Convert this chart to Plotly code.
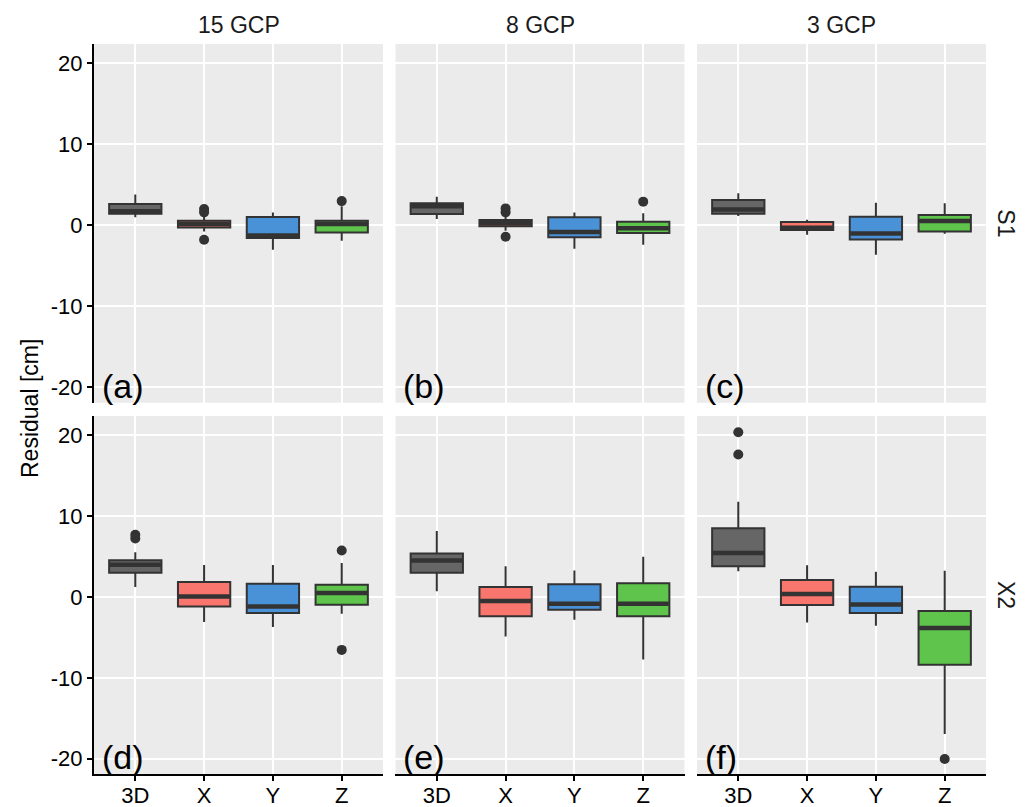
import plotly.graph_objects as go

# ---------------- data ----------------
categories = ["3D", "X", "Y", "Z"]
columns = ["15 GCP", "8 GCP", "3 GCP"]
rows = ["S1", "X2"]
panel_labels = [["(a)", "(b)", "(c)"], ["(d)", "(e)", "(f)"]]
fill_colors = ["#666666", "#F8766D", "#4A92D7", "#5FC44B"]

# statistics per panel: [row][col][category]
q1 = [
    [[1.45, -0.25, -1.57, -0.87], [1.40, -0.12, -1.48, -0.95], [1.45, -0.58, -1.74, -0.74]],
    [[3.00, -1.16, -1.99, -0.95], [2.99, -2.37, -1.58, -2.37], [3.80, -0.99, -1.98, -8.39]],
]
median = [
    [[1.75, 0.16, -1.24, 0.16], [2.35, 0.25, -0.82, -0.35], [1.95, -0.29, -0.99, 0.54]],
    [[4.00, 0.08, -1.16, 0.50], [4.52, -0.50, -0.83, -0.83], [5.45, 0.37, -0.91, -3.84]],
]
q3 = [
    [[2.64, 0.58, 1.03, 0.58], [2.72, 0.66, 0.99, 0.45], [3.14, 0.41, 1.07, 1.28]],
    [[4.55, 1.86, 1.65, 1.53], [5.39, 1.24, 1.58, 1.70], [8.51, 2.10, 1.28, -1.74]],
]
lower_whisker = [
    [[0.99, -0.74, -3.00, -1.90], [0.78, -0.66, -2.90, -2.40], [1.16, -1.16, -3.64, -1.03]],
    [[1.24, -3.10, -3.72, -2.07], [0.70, -4.90, -2.82, -7.72], [3.18, -3.14, -3.55, -16.94]],
]
upper_whisker = [
    [[3.80, 1.10, 1.60, 2.35], [3.55, 1.20, 1.60, 1.50], [3.97, 0.70, 2.81, 2.73]],
    [[5.54, 3.97, 3.97, 4.22], [8.17, 3.82, 3.28, 4.98], [11.78, 3.93, 3.14, 3.26]],
]
outliers = [
    [[[], [2.02, 1.61, -1.77], [], [3.00]],
     [[], [2.10, 1.61, -1.40], [], [2.93]],
     [[], [], [], []]],
    [[[7.70, 7.25], [], [], [5.75, -6.54]],
     [[], [], [], []],
     [[20.40, 17.64], [], [], [-20.04]]],
]

y_ticks = [-20, -10, 0, 10, 20]
y_tick_labels = ["-20", "-10", "0", "10", "20"]
y_range = [-21.9, 22.4]
x_range = [0.4, 4.6]
box_width = 0.76

# ---------------- layout geometry ----------------
x_domains = [[0.0, 0.324], [0.338, 0.662], [0.676, 1.0]]
y_domains = [[0.5086, 1.0], [0.0, 0.4904]]

FONT = "Liberation Sans, Arial, sans-serif"
LINE = "#333333"
TICK_SIZE = 22
STRIP_SIZE = 23

fig = go.Figure()
layout = dict(
    width=1022, height=799,
    margin=dict(l=86, r=44, t=36, b=33, autoexpand=False),
    paper_bgcolor="white", plot_bgcolor="#EBEBEB",
    showlegend=False,
    font=dict(family=FONT, size=TICK_SIZE, color="black"),
)
annotations = []

for r in range(2):
    for c in range(3):
        idx = r * 3 + c + 1
        xa = "x" if idx == 1 else f"x{idx}"
        ya = "y" if idx == 1 else f"y{idx}"
        for k, cat in enumerate(categories):
            pos = k + 1
            fig.add_trace(go.Box(
                x=[pos], q1=[q1[r][c][k]], median=[median[r][c][k]], q3=[q3[r][c][k]],
                lowerfence=[lower_whisker[r][c][k]], upperfence=[upper_whisker[r][c][k]],
                width=box_width, fillcolor=fill_colors[k],
                line=dict(color=LINE, width=2), whiskerwidth=0,
                boxpoints=False, xaxis=xa, yaxis=ya, hoverinfo="skip",
            ))
            # thick median bar (ggplot fatten)
            m = median[r][c][k]
            fig.add_trace(go.Scatter(
                x=[pos - box_width / 2 + 0.01, pos + box_width / 2 - 0.01], y=[m, m],
                mode="lines", line=dict(color=LINE, width=4.5),
                xaxis=xa, yaxis=ya, hoverinfo="skip",
            ))
            pts = outliers[r][c][k]
            if pts:
                fig.add_trace(go.Scatter(
                    x=[pos] * len(pts), y=pts, mode="markers",
                    marker=dict(color=LINE, size=10),
                    xaxis=xa, yaxis=ya, hoverinfo="skip",
                ))
        xkey = "xaxis" if idx == 1 else f"xaxis{idx}"
        ykey = "yaxis" if idx == 1 else f"yaxis{idx}"
        bottom = (r == 1)
        left = (c == 0)
        layout[xkey] = dict(
            domain=x_domains[c], anchor=ya, range=x_range,
            tickmode="array", tickvals=[1, 2, 3, 4],
            ticktext=categories if bottom else [""] * 4,
            showticklabels=bottom, automargin=False,
            ticklabelstandoff=-4,
            showgrid=True, gridcolor="white", gridwidth=2,
            zeroline=False,
            showline=bottom, linecolor="black", linewidth=2,
            ticks="outside" if bottom else "", ticklen=5, tickwidth=2, tickcolor="black",
            tickfont=dict(family=FONT, size=TICK_SIZE, color="black"),
            fixedrange=True,
        )
        layout[ykey] = dict(
            domain=y_domains[r], anchor=xa, range=y_range,
            tickmode="array", tickvals=y_ticks, ticktext=y_tick_labels,
            showticklabels=left, automargin=False,
            showgrid=True, gridcolor="white", gridwidth=2,
            zeroline=False,
            showline=left, linecolor="black", linewidth=2,
            ticks="outside" if left else "", ticklen=5, tickwidth=2, tickcolor="black",
            tickfont=dict(family=FONT, size=TICK_SIZE, color="black"),
            fixedrange=True,
        )
        annotations.append(dict(
            text=panel_labels[r][c], xref=f"{xa} domain", yref=f"{ya} domain",
            x=0.02, y=0.0, xanchor="left", yanchor="bottom", yshift=-4, showarrow=False,
            font=dict(family=FONT, size=34, color="black"),
        ))

# column strips
for c, name in enumerate(columns):
    annotations.append(dict(
        text=name, xref="paper", yref="paper",
        x=(x_domains[c][0] + x_domains[c][1]) / 2, y=1.0, yshift=19,
        xanchor="center", yanchor="middle", showarrow=False,
        font=dict(family=FONT, size=STRIP_SIZE, color="#1A1A1A"),
    ))
# row strips
for r, name in enumerate(rows):
    annotations.append(dict(
        text=name, xref="paper", yref="paper",
        x=1.0, xshift=20, y=(y_domains[r][0] + y_domains[r][1]) / 2,
        xanchor="center", yanchor="middle", textangle=90, showarrow=False,
        font=dict(family=FONT, size=STRIP_SIZE, color="#1A1A1A"),
    ))
# y title
annotations.append(dict(
    text="Residual [cm]", xref="paper", yref="paper",
    x=0.0, xshift=-64, y=0.5, xanchor="center", yanchor="middle",
    textangle=-90, showarrow=False,
    font=dict(family=FONT, size=STRIP_SIZE, color="black"),
))

layout["annotations"] = annotations
fig.update_layout(**layout)
fig.write_html("out.html")
